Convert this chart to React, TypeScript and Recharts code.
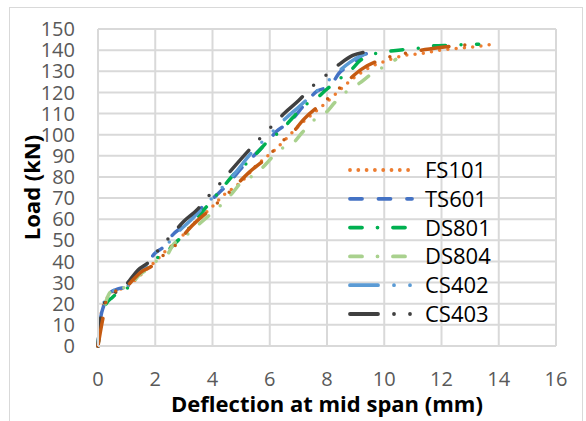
import { LineChart, Line, XAxis, YAxis, CartesianGrid } from "recharts"

document.body.style.margin = "0"

// deflection (mm), load (kN)
const FS101: [number, number][] = [
  [0, 0], [0.05, 8], [0.12, 16], [0.25, 21], [0.45, 25], [0.7, 26.5], [1.0, 28], [1.2, 30],
  [1.6, 35], [2.0, 40], [2.4, 45.5], [2.8, 50], [3.2, 56], [3.6, 61], [4.0, 66], [4.4, 71.5],
  [4.8, 75.5], [5.07, 78.6], [5.5, 85], [6.18, 92.8], [6.6, 98.4], [7.0, 104], [7.6, 111],
  [8.16, 117.4], [8.4, 120.5], [8.86, 126], [9.1, 128.5], [9.6, 132.5], [10.2, 135.5],
  [10.7, 137.5], [11.3, 138.4], [11.9, 139.9], [12.5, 140.7], [13.35, 141.9], [13.9, 143],
]

const TS601: [number, number][] = [
  [0, 0], [0.08, 12], [0.2, 19], [0.4, 25], [0.7, 27], [1.0, 28], [1.2, 32], [1.6, 37],
  [2.0, 44], [2.3, 47], [2.6, 52.5], [3.0, 57], [3.5, 64], [4.15, 71.5], [4.5, 76], [5.0, 84],
  [5.66, 93], [5.94, 97], [6.24, 101.6], [6.7, 106], [7.2, 114], [7.64, 120.5], [8.1, 123],
  [8.45, 129.5], [8.86, 133], [9.3, 138], [9.75, 139],
]

const DS801: [number, number][] = [
  [0, 0], [0.08, 11], [0.25, 19], [0.5, 23], [0.8, 26], [1.0, 27], [1.1, 29], [1.5, 35],
  [1.9, 40], [2.3, 44], [2.5, 46], [2.8, 50], [3.2, 56], [3.8, 66], [4.3, 74], [4.8, 82],
  [5.2, 86.5], [5.6, 92], [5.94, 97], [6.4, 102], [6.8, 108], [7.23, 114], [7.58, 116.6],
  [7.95, 121], [8.4, 126], [8.8, 130], [9.15, 135], [9.7, 138.4], [10.2, 139.5], [10.7, 140.3],
  [11.25, 141], [11.7, 142], [12.4, 142.3], [13.0, 142.7], [13.3, 142.8],
]

const DS804: [number, number][] = [
  [0, 0], [0.08, 11], [0.25, 20], [0.4, 25], [0.6, 27], [0.9, 27.5], [1.1, 28], [1.4, 33],
  [1.8, 37], [2.2, 42], [2.4, 43], [2.62, 47.8], [3.1, 52.5], [3.5, 57.3], [3.9, 62],
  [4.3, 66.8], [4.7, 72.5], [5.08, 78.5], [5.5, 81], [5.9, 86.6], [6.36, 93], [6.77, 95.3],
  [7.12, 100.8], [7.6, 107.5], [7.93, 110], [8.28, 115.3], [8.69, 120.5], [9.15, 124.5],
  [9.56, 128.8], [10.1, 133], [10.4, 135.6],
]

const CS402: [number, number][] = [
  [0, 0], [0.08, 12], [0.2, 20], [0.4, 25], [0.7, 27], [1.0, 28], [1.2, 32], [1.6, 37],
  [2.0, 44], [2.4, 48], [2.8, 54], [3.2, 59], [3.7, 66], [4.2, 73], [4.8, 82], [5.4, 92],
  [6.0, 100], [6.5, 107], [7.0, 113], [7.5, 119], [8.0, 125], [8.5, 131], [9.0, 136], [9.4, 138.5],
]

const CS403: [number, number][] = [
  [0, 0], [0.08, 12], [0.25, 21], [0.5, 25], [0.8, 26], [1.1, 31], [1.4, 36], [1.8, 40],
  [2.2, 47], [2.6, 53], [3.0, 59], [3.5, 65], [3.8, 70], [4.2, 76], [4.9, 87], [5.5, 96],
  [6.0, 103], [6.5, 110], [7.0, 116], [7.5, 123], [7.95, 128], [8.4, 133], [8.9, 137.5], [9.3, 139],
]

// extra dark orange series, not listed in the legend
const HIDDEN: [number, number][] = [
  [0, 0], [0.1, 8], [0.2, 15], [0.3, 22], [0.5, 25], [0.8, 27], [1.0, 28], [1.2, 31],
  [1.5, 35], [1.9, 38], [2.2, 42], [2.6, 46], [2.9, 51], [3.2, 55.7], [3.97, 65.2], [4.6, 73],
  [5.25, 81.8], [6.0, 90.5], [6.36, 96], [6.8, 101], [7.17, 107], [7.99, 116.6], [8.6, 124],
  [9.2, 130.9], [10.1, 136.4], [10.84, 138.8], [11.95, 141.2], [13.0, 142.7],
]

const X_TICKS = [0, 2, 4, 6, 8, 10, 12, 14, 16]
const Y_TICKS = [0, 10, 20, 30, 40, 50, 60, 70, 80, 90, 100, 110, 120, 130, 140, 150]

const FONT = "'Open Sans', sans-serif"
const GRID = "#D9D9D9"

const SERIES = [
  { name: "FS101", pts: FS101, color: "#ED7D31", dash: "0 8.3", hide: false },
  { name: "TS601", pts: TS601, color: "#4472C4", dash: "12 16.5", hide: false },
  { name: "DS801", pts: DS801, color: "#00B050", dash: "12 15.5 0 15.5", hide: false },
  { name: "DS804", pts: DS804, color: "#A9D18E", dash: "12 15.5 0 15.5", hide: false },
  { name: "CS402", pts: CS402, color: "#5B9BD5", dash: "28 16 0 16 0 16", hide: false },
  { name: "CS403", pts: CS403, color: "#404040", dash: "28 16 0 16 0 16", hide: false },
  { name: "hidden", pts: HIDDEN, color: "#C55A11", dash: "28 16 0 16 0 16", hide: true },
]

function LegendBox() {
  const shown = SERIES.filter(s => !s.hide)
  return (
    <svg width={170} height={210} style={{ position: "absolute", left: 344, top: 140 }}>
      {shown.map((s, i) => {
        const y = 30 + i * 28.8
        return (
          <g key={s.name}>
            <line
              x1={6} x2={68} y1={y} y2={y}
              stroke={s.color} strokeWidth={3.8} strokeLinecap="round" strokeDasharray={s.dash}
            />
            <text x={81} y={y} dy="0.36em" fontSize={22} fontFamily={FONT} fill="#000">
              {s.name}
            </text>
          </g>
        )
      })}
    </svg>
  )
}

export default function App() {
  return (
    <div style={{ position: "relative", width: 586, height: 421, overflow: "hidden", background: "#fff" }}>
      <div
        style={{
          position: "absolute", left: 9, top: 7, width: 574, height: 430,
          border: `1px solid ${GRID}`, boxSizing: "border-box",
        }}
      />
      <LineChart width={586} height={421} margin={{ top: 29, right: 30, left: 0, bottom: 0 }}>
        <CartesianGrid stroke={GRID} strokeWidth={2} />
        <XAxis
          type="number" dataKey="x" domain={[0, 16]} ticks={X_TICKS} height={75}
          axisLine={{ stroke: GRID, strokeWidth: 2 }} tickLine={false} tickSize={0} tickMargin={26}
          tick={{ fill: "#595959", fontSize: 20, fontFamily: FONT }}
          label={{
            value: "Deflection at mid span (mm)", position: "insideBottom", offset: 9,
            style: { fontSize: 22, fontWeight: 700, fontFamily: FONT, fill: "#000" },
          }}
        />
        <YAxis
          type="number" domain={[0, 150]} ticks={Y_TICKS} width={98} interval={0}
          axisLine={{ stroke: GRID, strokeWidth: 2 }} tickLine={false} tickSize={0} tickMargin={23}
          tick={{ fill: "#595959", fontSize: 20, fontFamily: FONT }}
          label={{
            value: "Load (kN)", angle: -90, position: "insideLeft", offset: 32,
            style: { fontSize: 22, fontWeight: 700, fontFamily: FONT, fill: "#000", textAnchor: "middle" },
          }}
        />
        {SERIES.map(s => (
          <Line
            key={s.name}
            data={s.pts.map(([x, y]) => ({ x, y }))}
            dataKey="y"
            name={s.name}
            type="monotone"
            stroke={s.color}
            strokeWidth={3.5}
            strokeLinecap="round"
            strokeDasharray={s.dash}
            dot={false}
            activeDot={false}
            legendType={s.hide ? "none" : "line"}
            isAnimationActive={false}
          />
        ))}
      </LineChart>
      <LegendBox />
    </div>
  )
}
